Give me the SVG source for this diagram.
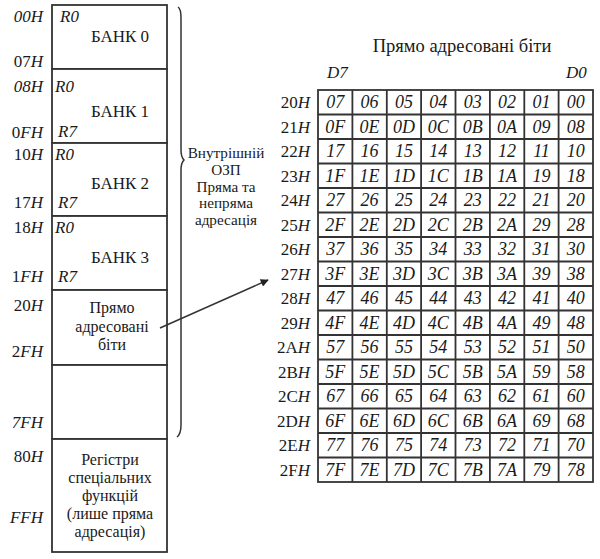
<svg xmlns="http://www.w3.org/2000/svg" width="600" height="559" viewBox="0 0 600 559">
<style>
text{font-family:"Liberation Serif","DejaVu Serif",serif;fill:#1a1a1a;font-size:17px}
.c{text-anchor:middle}
.r{text-anchor:end}
.i{font-style:italic}
.m{font-size:16px}
.s{font-size:15.2px}
.cell{font-style:italic;text-anchor:middle;font-size:18px}
.box{fill:#fff;stroke:#333;stroke-width:1.8}
.ln{stroke:#333;stroke-width:1.8;fill:none}
</style>
<defs>
<marker id="ah" viewBox="0 0 10 10" refX="9" refY="5" markerWidth="11" markerHeight="8" orient="auto" markerUnits="userSpaceOnUse">
<path d="M0,0 L10,5 L0,10 z" fill="#222"/>
</marker>
</defs>
<rect width="600" height="559" fill="#fff"/>

<g id="bank0">
<rect class="box" x="52" y="5" width="115" height="64"/>
<text x="43" y="22" class="r i">00H</text>
<text x="43" y="67" class="r">07<tspan class="i">H</tspan></text>
<text x="60" y="22" class="i">R0</text>
<text x="120" y="42" class="c">БАНК 0</text>
</g>
<g id="bank1">
<rect class="box" x="52" y="69" width="115" height="74"/>
<text x="43" y="92" class="r i">08H</text>
<text x="43" y="138" class="r">0<tspan class="i">FH</tspan></text>
<text x="55" y="92" class="i">R0</text>
<text x="58" y="137" class="i">R7</text>
<text x="120" y="117" class="c">БАНК 1</text>
</g>
<g id="bank2">
<rect class="box" x="52" y="143" width="115" height="73"/>
<text x="43" y="160" class="r">10<tspan class="i">H</tspan></text>
<text x="43" y="208" class="r">17<tspan class="i">H</tspan></text>
<text x="55" y="160" class="i">R0</text>
<text x="58" y="208" class="i">R7</text>
<text x="120" y="189" class="c">БАНК 2</text>
</g>
<g id="bank3">
<rect class="box" x="52" y="216" width="115" height="74"/>
<text x="43" y="233" class="r">18<tspan class="i">H</tspan></text>
<text x="43" y="282" class="r">1<tspan class="i">FH</tspan></text>
<text x="55" y="233" class="i">R0</text>
<text x="58" y="282" class="i">R7</text>
<text x="120" y="263" class="c">БАНК 3</text>
</g>
<g id="bitarea">
<rect class="box" x="52" y="290" width="115" height="75"/>
<text x="43" y="311" class="r">20<tspan class="i">H</tspan></text>
<text x="43" y="357" class="r">2<tspan class="i">FH</tspan></text>
<text x="112" y="313" class="c m">Прямо</text>
<text x="112" y="331.5" class="c m">адресовані</text>
<text x="112" y="350" class="c m">біти</text>
</g>
<g id="general">
<rect class="box" x="52" y="365" width="115" height="74"/>
<text x="43" y="428" class="r i">7FH</text>
</g>
<g id="sfr">
<rect class="box" x="52" y="439" width="115" height="113"/>
<text x="43" y="462" class="r">80<tspan class="i">H</tspan></text>
<text x="43" y="523" class="r i">FFH</text>
<text x="110" y="465" class="c m">Регістри</text>
<text x="110" y="483" class="c m">спеціальних</text>
<text x="110" y="501" class="c m">функцій</text>
<text x="110" y="519" class="c m">(лише пряма</text>
<text x="110" y="537" class="c m">адресація)</text>
</g>

<g id="ram-label">
<path class="ln" style="stroke-width:1.5" d="M178,7 Q181,9 181,18 L181,150 Q181,157 184,160 Q181,163 181,170 L181,425 Q181,434 177,437"/>
<text x="226" y="158" class="c s">Внутрішній</text>
<text x="226" y="174.8" class="c s">ОЗП</text>
<text x="226" y="191.6" class="c s">Пряма та</text>
<text x="226" y="208.4" class="c s">непряма</text>
<text x="226" y="225.2" class="c s">адресація</text>
</g>

<g id="connectors">
<line class="ln" style="stroke-width:1.5" x1="160" y1="328" x2="268" y2="280" marker-end="url(#ah)"/>
</g>

<g id="bit-table">
<text x="462" y="52" class="c" style="font-size:18.5px">Прямо адресовані біти</text>
<text x="327" y="78" class="i">D7</text>
<text x="566" y="78" class="i">D0</text>
<rect class="box" x="318" y="90" width="275" height="392"/>
<g class="ln">
<line x1="352.4" y1="90" x2="352.4" y2="482"/>
<line x1="386.8" y1="90" x2="386.8" y2="482"/>
<line x1="421.1" y1="90" x2="421.1" y2="482"/>
<line x1="455.5" y1="90" x2="455.5" y2="482"/>
<line x1="489.9" y1="90" x2="489.9" y2="482"/>
<line x1="524.3" y1="90" x2="524.3" y2="482"/>
<line x1="558.6" y1="90" x2="558.6" y2="482"/>
<line x1="318" y1="114.5" x2="593" y2="114.5"/>
<line x1="318" y1="139" x2="593" y2="139"/>
<line x1="318" y1="163.5" x2="593" y2="163.5"/>
<line x1="318" y1="188" x2="593" y2="188"/>
<line x1="318" y1="212.5" x2="593" y2="212.5"/>
<line x1="318" y1="237" x2="593" y2="237"/>
<line x1="318" y1="261.5" x2="593" y2="261.5"/>
<line x1="318" y1="286" x2="593" y2="286"/>
<line x1="318" y1="310.5" x2="593" y2="310.5"/>
<line x1="318" y1="335" x2="593" y2="335"/>
<line x1="318" y1="359.5" x2="593" y2="359.5"/>
<line x1="318" y1="384" x2="593" y2="384"/>
<line x1="318" y1="408.5" x2="593" y2="408.5"/>
<line x1="318" y1="433" x2="593" y2="433"/>
<line x1="318" y1="457.5" x2="593" y2="457.5"/>
</g>
<g class="r">
<text x="310" y="108">20<tspan class="i">H</tspan></text>
<text x="310" y="132.5">21<tspan class="i">H</tspan></text>
<text x="310" y="157">22<tspan class="i">H</tspan></text>
<text x="310" y="181.5">23<tspan class="i">H</tspan></text>
<text x="310" y="206">24<tspan class="i">H</tspan></text>
<text x="310" y="230.5">25<tspan class="i">H</tspan></text>
<text x="310" y="255">26<tspan class="i">H</tspan></text>
<text x="310" y="279.5">27<tspan class="i">H</tspan></text>
<text x="310" y="304">28<tspan class="i">H</tspan></text>
<text x="310" y="328.5">29<tspan class="i">H</tspan></text>
<text x="310" y="353">2A<tspan class="i">H</tspan></text>
<text x="310" y="377.5">2B<tspan class="i">H</tspan></text>
<text x="310" y="402">2C<tspan class="i">H</tspan></text>
<text x="310" y="426.5">2D<tspan class="i">H</tspan></text>
<text x="310" y="451">2E<tspan class="i">H</tspan></text>
<text x="310" y="475.5">2F<tspan class="i">H</tspan></text>
</g>
<g class="cell">
<text x="335.2" y="108" class="cell">07</text><text x="369.6" y="108" class="cell">06</text><text x="404" y="108" class="cell">05</text><text x="438.3" y="108" class="cell">04</text><text x="472.7" y="108" class="cell">03</text><text x="507.1" y="108" class="cell">02</text><text x="541.5" y="108" class="cell">01</text><text x="575.8" y="108" class="cell">00</text>
<text x="335.2" y="132.5" class="cell">0F</text><text x="369.6" y="132.5" class="cell">0E</text><text x="404" y="132.5" class="cell">0D</text><text x="438.3" y="132.5" class="cell">0C</text><text x="472.7" y="132.5" class="cell">0B</text><text x="507.1" y="132.5" class="cell">0A</text><text x="541.5" y="132.5" class="cell">09</text><text x="575.8" y="132.5" class="cell">08</text>
<text x="335.2" y="157" class="cell">17</text><text x="369.6" y="157" class="cell">16</text><text x="404" y="157" class="cell">15</text><text x="438.3" y="157" class="cell">14</text><text x="472.7" y="157" class="cell">13</text><text x="507.1" y="157" class="cell">12</text><text x="541.5" y="157" class="cell">11</text><text x="575.8" y="157" class="cell">10</text>
<text x="335.2" y="181.5" class="cell">1F</text><text x="369.6" y="181.5" class="cell">1E</text><text x="404" y="181.5" class="cell">1D</text><text x="438.3" y="181.5" class="cell">1C</text><text x="472.7" y="181.5" class="cell">1B</text><text x="507.1" y="181.5" class="cell">1A</text><text x="541.5" y="181.5" class="cell">19</text><text x="575.8" y="181.5" class="cell">18</text>
<text x="335.2" y="206" class="cell">27</text><text x="369.6" y="206" class="cell">26</text><text x="404" y="206" class="cell">25</text><text x="438.3" y="206" class="cell">24</text><text x="472.7" y="206" class="cell">23</text><text x="507.1" y="206" class="cell">22</text><text x="541.5" y="206" class="cell">21</text><text x="575.8" y="206" class="cell">20</text>
<text x="335.2" y="230.5" class="cell">2F</text><text x="369.6" y="230.5" class="cell">2E</text><text x="404" y="230.5" class="cell">2D</text><text x="438.3" y="230.5" class="cell">2C</text><text x="472.7" y="230.5" class="cell">2B</text><text x="507.1" y="230.5" class="cell">2A</text><text x="541.5" y="230.5" class="cell">29</text><text x="575.8" y="230.5" class="cell">28</text>
<text x="335.2" y="255" class="cell">37</text><text x="369.6" y="255" class="cell">36</text><text x="404" y="255" class="cell">35</text><text x="438.3" y="255" class="cell">34</text><text x="472.7" y="255" class="cell">33</text><text x="507.1" y="255" class="cell">32</text><text x="541.5" y="255" class="cell">31</text><text x="575.8" y="255" class="cell">30</text>
<text x="335.2" y="279.5" class="cell">3F</text><text x="369.6" y="279.5" class="cell">3E</text><text x="404" y="279.5" class="cell">3D</text><text x="438.3" y="279.5" class="cell">3C</text><text x="472.7" y="279.5" class="cell">3B</text><text x="507.1" y="279.5" class="cell">3A</text><text x="541.5" y="279.5" class="cell">39</text><text x="575.8" y="279.5" class="cell">38</text>
<text x="335.2" y="304" class="cell">47</text><text x="369.6" y="304" class="cell">46</text><text x="404" y="304" class="cell">45</text><text x="438.3" y="304" class="cell">44</text><text x="472.7" y="304" class="cell">43</text><text x="507.1" y="304" class="cell">42</text><text x="541.5" y="304" class="cell">41</text><text x="575.8" y="304" class="cell">40</text>
<text x="335.2" y="328.5" class="cell">4F</text><text x="369.6" y="328.5" class="cell">4E</text><text x="404" y="328.5" class="cell">4D</text><text x="438.3" y="328.5" class="cell">4C</text><text x="472.7" y="328.5" class="cell">4B</text><text x="507.1" y="328.5" class="cell">4A</text><text x="541.5" y="328.5" class="cell">49</text><text x="575.8" y="328.5" class="cell">48</text>
<text x="335.2" y="353" class="cell">57</text><text x="369.6" y="353" class="cell">56</text><text x="404" y="353" class="cell">55</text><text x="438.3" y="353" class="cell">54</text><text x="472.7" y="353" class="cell">53</text><text x="507.1" y="353" class="cell">52</text><text x="541.5" y="353" class="cell">51</text><text x="575.8" y="353" class="cell">50</text>
<text x="335.2" y="377.5" class="cell">5F</text><text x="369.6" y="377.5" class="cell">5E</text><text x="404" y="377.5" class="cell">5D</text><text x="438.3" y="377.5" class="cell">5C</text><text x="472.7" y="377.5" class="cell">5B</text><text x="507.1" y="377.5" class="cell">5A</text><text x="541.5" y="377.5" class="cell">59</text><text x="575.8" y="377.5" class="cell">58</text>
<text x="335.2" y="402" class="cell">67</text><text x="369.6" y="402" class="cell">66</text><text x="404" y="402" class="cell">65</text><text x="438.3" y="402" class="cell">64</text><text x="472.7" y="402" class="cell">63</text><text x="507.1" y="402" class="cell">62</text><text x="541.5" y="402" class="cell">61</text><text x="575.8" y="402" class="cell">60</text>
<text x="335.2" y="426.5" class="cell">6F</text><text x="369.6" y="426.5" class="cell">6E</text><text x="404" y="426.5" class="cell">6D</text><text x="438.3" y="426.5" class="cell">6C</text><text x="472.7" y="426.5" class="cell">6B</text><text x="507.1" y="426.5" class="cell">6A</text><text x="541.5" y="426.5" class="cell">69</text><text x="575.8" y="426.5" class="cell">68</text>
<text x="335.2" y="451" class="cell">77</text><text x="369.6" y="451" class="cell">76</text><text x="404" y="451" class="cell">75</text><text x="438.3" y="451" class="cell">74</text><text x="472.7" y="451" class="cell">73</text><text x="507.1" y="451" class="cell">72</text><text x="541.5" y="451" class="cell">71</text><text x="575.8" y="451" class="cell">70</text>
<text x="335.2" y="475.5" class="cell">7F</text><text x="369.6" y="475.5" class="cell">7E</text><text x="404" y="475.5" class="cell">7D</text><text x="438.3" y="475.5" class="cell">7C</text><text x="472.7" y="475.5" class="cell">7B</text><text x="507.1" y="475.5" class="cell">7A</text><text x="541.5" y="475.5" class="cell">79</text><text x="575.8" y="475.5" class="cell">78</text>
</g>
</g>
</svg>
